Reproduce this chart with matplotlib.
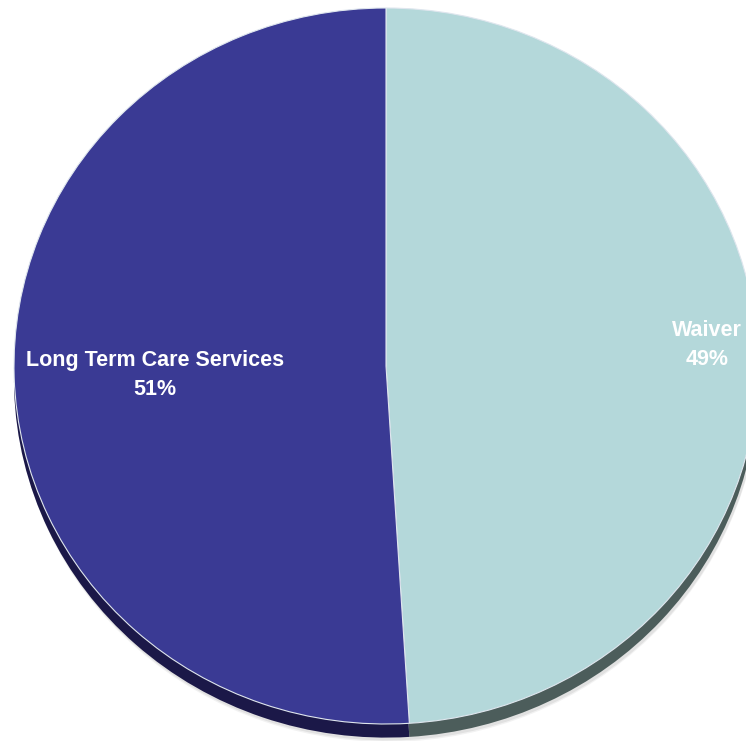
import matplotlib.pyplot as plt

labels = ["Waiver", "Long Term Care Services"]
shares = [49, 51]
top_colors = ["#b4d8da", "#3a3a94"]
side_colors = ["#4c5d5b", "#1b1848"]

fig = plt.figure(figsize=(7.46, 7.41), dpi=100, facecolor="w")
ax = fig.add_axes([0, 0, 1, 1])

# soft shadow under the disc
for off, a in [(-0.050, 0.10), (-0.046, 0.15)]:
    ax.pie(shares, colors=["#808080"] * 2, startangle=90, counterclock=False,
           center=(0.004, off), radius=1.0,
           wedgeprops={"linewidth": 0, "alpha": a})

# depth of the disc
ax.pie(shares, colors=side_colors, startangle=90, counterclock=False,
       center=(0, -0.038), radius=1.0, wedgeprops={"linewidth": 0})

# top face
ax.pie(shares, colors=top_colors, startangle=90, counterclock=False,
       center=(0, 0), radius=1.0,
       wedgeprops={"linewidth": 0.8, "edgecolor": "#dfe6ee"})

txt_kw = dict(color="white", fontsize=15.5, fontweight="bold", ha="center",
              va="center", linespacing=1.5, family="Liberation Sans")
ax.text(-0.621, -0.025, "%s\n%d%%" % (labels[1], shares[1]), **txt_kw)
ax.text(0.862, 0.059, "%s\n%d%%" % (labels[0], shares[0]), **txt_kw)

ax.set_aspect("auto")
ax.set_xlim(-386 / 372, (746 - 386) / 372)
ax.set_ylim(-375 / 358, (741 - 375) / 358)
ax.axis("off")

plt.savefig("out.png", dpi=100, facecolor="w")
